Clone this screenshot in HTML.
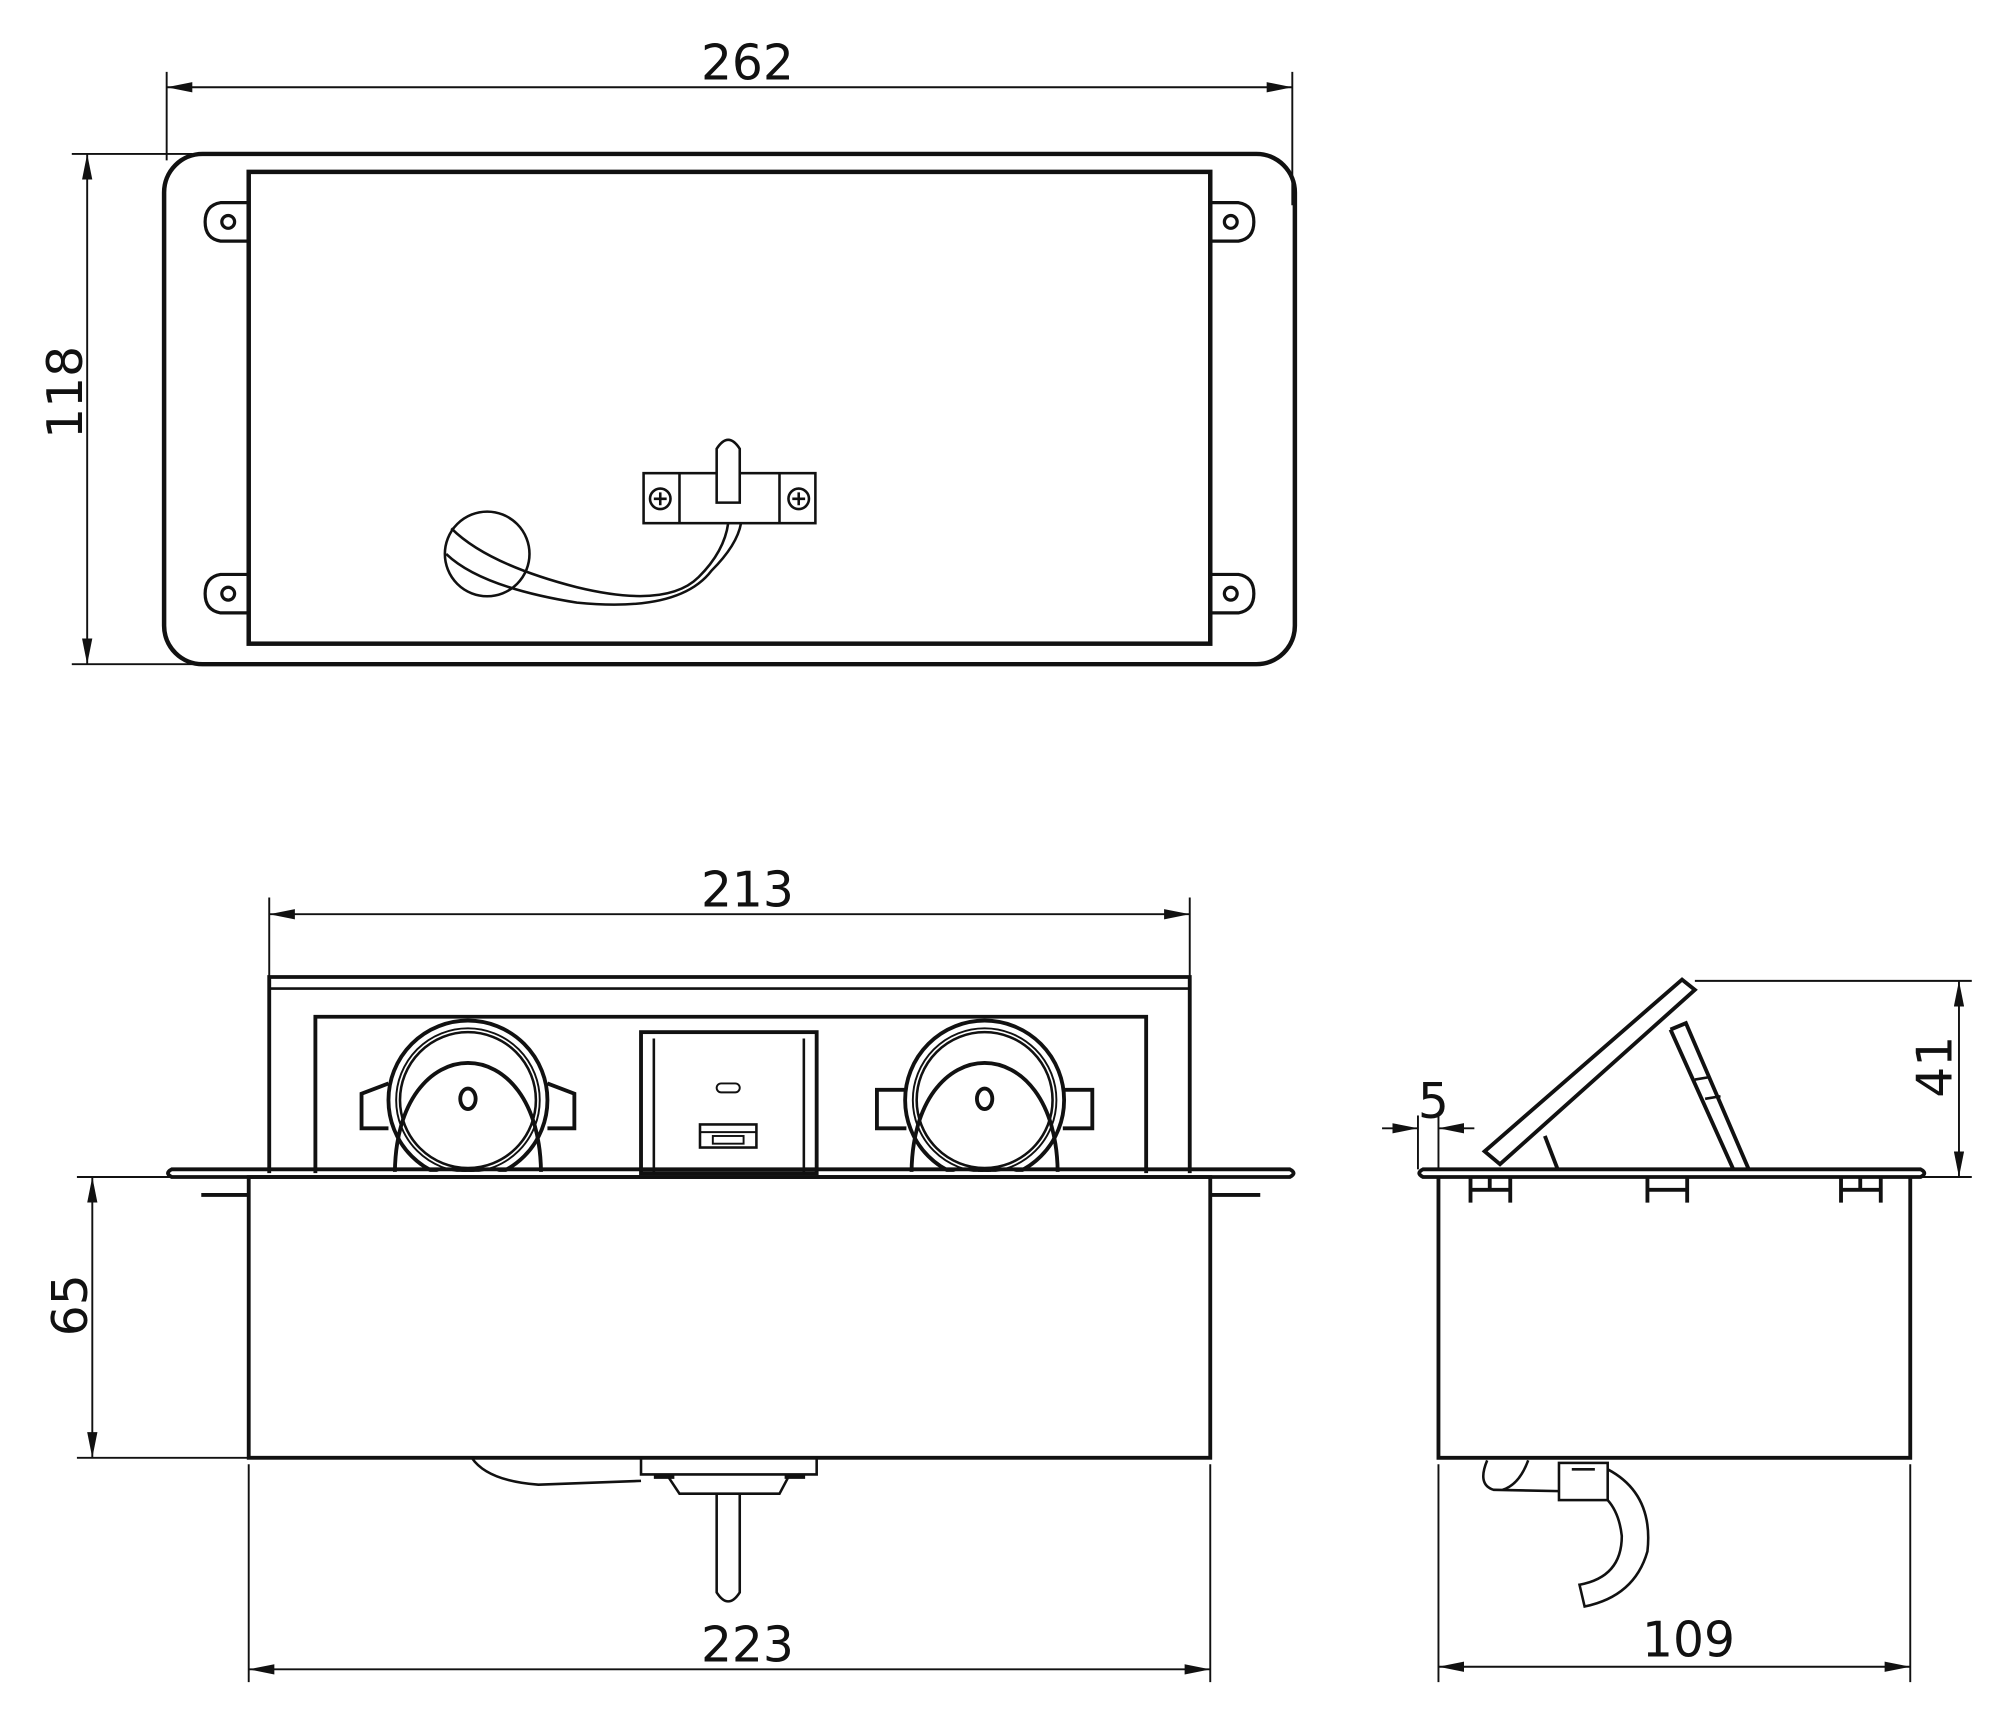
<!DOCTYPE html>
<html><head><style>html,body{margin:0;padding:0;background:#fff}svg{display:block}text{font-family:"DejaVu Sans","Liberation Sans",sans-serif;font-size:38px;fill:#111}</style></head>
<body>
<svg width="2000" height="1713" viewBox="0 0 1560 1336" xmlns="http://www.w3.org/2000/svg">
<defs>
<marker id="a" viewBox="0 0 20 8" refX="20" refY="4" markerWidth="20" markerHeight="8" markerUnits="userSpaceOnUse" orient="auto-start-reverse"><path d="M0,0 L20,4 L0,8 z" fill="#111"/></marker>
<clipPath id="c"><rect x="0" y="0" width="1560" height="914"/></clipPath>
</defs>
<g fill="none" stroke="#111" stroke-width="1.5">
<line x1="130" y1="68" x2="1008" y2="68" marker-start="url(#a)" marker-end="url(#a)"/>
<line x1="130" y1="56" x2="130" y2="125"/><line x1="1008" y1="56" x2="1008" y2="160"/>
<line x1="68" y1="120" x2="68" y2="518" marker-start="url(#a)" marker-end="url(#a)"/>
<line x1="56" y1="120" x2="150" y2="120"/><line x1="56" y1="518" x2="150" y2="518"/>
</g>
<text x="583" y="62" text-anchor="middle">262</text>
<text transform="translate(64,306) rotate(-90)" text-anchor="middle">118</text>
<g fill="none" stroke="#111" stroke-width="3.5">
<rect x="128" y="120" width="882" height="398" rx="30"/>
<rect x="194" y="134" width="750" height="368"/>
</g>
<g fill="none" stroke="#111" stroke-width="2.5">
<path d="M194,158 L172,158 Q160,160 160,173 Q160,186 172,188 L194,188"/><circle cx="178" cy="173" r="5"/>
<path d="M944,158 L966,158 Q978,160 978,173 Q978,186 966,188 L944,188"/><circle cx="960" cy="173" r="5"/>
<path d="M194,448 L172,448 Q160,450 160,463 Q160,476 172,478 L194,478"/><circle cx="178" cy="463" r="5"/>
<path d="M944,448 L966,448 Q978,450 978,463 Q978,476 966,478 L944,478"/><circle cx="960" cy="463" r="5"/>
</g>
<g fill="none" stroke="#111" stroke-width="2">
<circle cx="380" cy="432" r="33"/>
<path d="M352,412 Q380,440 450,458 Q520,475 545,450 Q565,430 568,408"/>
<path d="M348,432 Q375,458 450,470 Q530,478 555,445 Q575,425 578,408"/>
<rect x="502" y="369" width="134" height="39"/>
<line x1="530" y1="369" x2="530" y2="408"/><line x1="608" y1="369" x2="608" y2="408"/>
<circle cx="515" cy="389" r="8"/><circle cx="623" cy="389" r="8"/>
<path d="M510,389h10M515,384v10M618,389h10M623,384v10"/>
<path d="M559,392 L559,350 Q568,336 577,350 L577,392 Z" fill="#fff"/>
</g>
<g fill="none" stroke="#111" stroke-width="1.5">
<line x1="210" y1="713" x2="928" y2="713" marker-start="url(#a)" marker-end="url(#a)"/>
<line x1="210" y1="700" x2="210" y2="762"/><line x1="928" y1="700" x2="928" y2="762"/>
<line x1="72" y1="918" x2="72" y2="1137" marker-start="url(#a)" marker-end="url(#a)"/>
<line x1="60" y1="918" x2="190" y2="918"/><line x1="60" y1="1137" x2="194" y2="1137"/>
<line x1="194" y1="1302" x2="944" y2="1302" marker-start="url(#a)" marker-end="url(#a)"/>
<line x1="194" y1="1142" x2="194" y2="1312"/><line x1="944" y1="1142" x2="944" y2="1312"/>
</g>
<text x="583" y="707" text-anchor="middle">213</text>
<text transform="translate(68,1018) rotate(-90)" text-anchor="middle">65</text>
<text x="583" y="1296" text-anchor="middle">223</text>
<g fill="none" stroke="#111" stroke-width="3">
<path d="M210,915 L210,762 L928,762 L928,915"/>
<line x1="210" y1="771" x2="928" y2="771" stroke-width="2"/>
<path d="M246,915 L246,793 L894,793 L894,915"/>
<rect x="500" y="805" width="137" height="110"/>
<line x1="510" y1="810" x2="510" y2="915" stroke-width="2"/><line x1="627" y1="810" x2="627" y2="915" stroke-width="2"/>
<rect x="559" y="845" width="18" height="7" rx="3.5" stroke-width="1.5"/>
<rect x="546" y="877" width="44" height="18" stroke-width="2"/>
<line x1="546" y1="883" x2="590" y2="883" stroke-width="1.5"/><rect x="556" y="886" width="24" height="6" stroke-width="1.5"/>
<g clip-path="url(#c)">
<circle cx="365" cy="858" r="62"/>
<circle cx="365" cy="858" r="56" stroke-width="1.5"/>
<circle cx="365" cy="858" r="53" stroke-width="2"/>
<path d="M308,916 C308,800 422,800 422,916"/>
<circle cx="365" cy="916" r="4" fill="#111"/>
<circle cx="768" cy="858" r="62"/>
<circle cx="768" cy="858" r="56" stroke-width="1.5"/>
<circle cx="768" cy="858" r="53" stroke-width="2"/>
<path d="M711,916 C711,800 825,800 825,916"/>
<circle cx="768" cy="916" r="4" fill="#111"/>
</g>
<ellipse cx="365" cy="857" rx="6" ry="8"/>
<path d="M303,845 L282,853 L282,880 L303,880M427,845 L448,853 L448,880 L427,880"/>
<ellipse cx="768" cy="857" rx="6" ry="8"/>
<path d="M707,850 L684,850 L684,880 L707,880M829,850 L852,850 L852,880 L829,880"/>
<path d="M134,912 L1006,912 Q1012,915 1006,918 L134,918 Q128,915 134,912 Z"/>
<rect x="194" y="918" width="750" height="219"/>
<line x1="157" y1="932" x2="194" y2="932"/><line x1="944" y1="932" x2="983" y2="932"/>
</g>
<g fill="none" stroke="#111" stroke-width="2">
<path d="M368,1137 Q380,1155 420,1158 L500,1155"/>
<path d="M500,1137 L500,1150 L637,1150 L637,1137"/>
<path d="M520,1150 L530,1165 L608,1165 L616,1150"/>
<path d="M510,1152 h16 M612,1152 h16" stroke-width="3"/>
<path d="M559,1165 L559,1242 Q568,1256 577,1242 L577,1165"/>
</g>
<g fill="none" stroke="#111" stroke-width="1.5">
<line x1="1528" y1="765" x2="1528" y2="918" marker-start="url(#a)" marker-end="url(#a)"/>
<line x1="1322" y1="765" x2="1538" y2="765"/><line x1="1495" y1="918" x2="1538" y2="918"/>
<line x1="1106" y1="870" x2="1106" y2="912"/><line x1="1122" y1="870" x2="1122" y2="912"/>
<line x1="1078" y1="880" x2="1106" y2="880" marker-end="url(#a)"/>
<line x1="1150" y1="880" x2="1122" y2="880" marker-end="url(#a)"/>
<line x1="1122" y1="1300" x2="1490" y2="1300" marker-start="url(#a)" marker-end="url(#a)"/>
<line x1="1122" y1="1142" x2="1122" y2="1312"/><line x1="1490" y1="1142" x2="1490" y2="1312"/>
</g>
<text x="1118" y="872" text-anchor="middle">5</text>
<text transform="translate(1522,832) rotate(-90)" text-anchor="middle">41</text>
<text x="1317" y="1292" text-anchor="middle">109</text>
<g fill="none" stroke="#111" stroke-width="3">
<path d="M1158,898 L1312,764 L1322,772 L1170,908 Z"/>
<line x1="1205" y1="886" x2="1215" y2="912"/>
<path d="M1303,803 L1315,798 L1364,912 M1303,803 L1352,912"/>
<line x1="1322" y1="842" x2="1334" y2="840" stroke-width="2"/><line x1="1330" y1="857" x2="1342" y2="855" stroke-width="2"/>
<path d="M1110,912 L1498,912 Q1504,915 1498,918 L1110,918 Q1104,915 1110,912 Z"/>
<path d="M1122,918 L1122,1137 L1490,1137 L1490,918"/>
<path d="M1147,918 V938 M1178,918 V938 M1147,928 H1178 M1162,918 V928"/>
<path d="M1285,918 V938 M1316,918 V938 M1285,928 H1316"/>
<path d="M1436,918 V938 M1467,918 V938 M1436,928 H1467 M1451,918 V928"/>
</g>
<g fill="none" stroke="#111" stroke-width="2">
<path d="M1160,1139 Q1152,1158 1165,1162 L1216,1163"/>
<path d="M1192,1139 Q1185,1158 1172,1162"/>
<rect x="1216" y="1141" width="38" height="29"/>
<path d="M1226,1146 h18"/>
<path d="M1254,1146 Q1290,1165 1285,1210 Q1275,1245 1236,1253 L1232,1236 Q1265,1230 1265,1198 Q1263,1180 1254,1170"/>
</g>
</svg>
</body></html>
